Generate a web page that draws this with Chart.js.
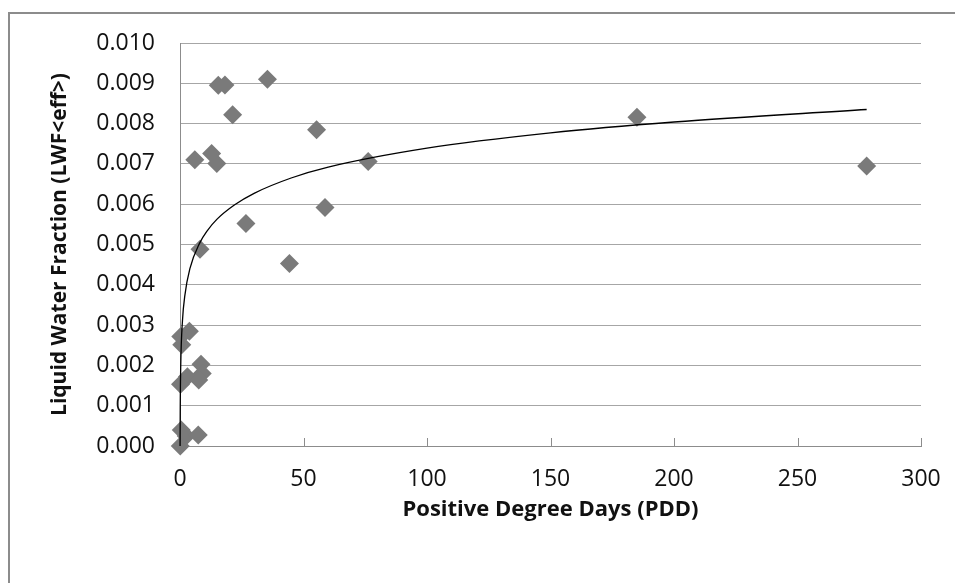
<!DOCTYPE html>
<html>
<head>
<meta charset="utf-8">
<script src="https://cdn.jsdelivr.net/npm/chart.js@4"></script>
<style>
  html, body { margin: 0; padding: 0; background: #fff; }
  #wrap { width: 955px; height: 583px; }
</style>
</head>
<body>
<div id="wrap"><canvas id="pddChart" width="955" height="583"></canvas></div>
<script>
// measured points: PDD vs LWF<eff>
const pddValues = [278, 185, 6.0, 12.8, 14.9, 15.5, 18.2, 21.3, 35.4, 55.3, 76.2, 58.7, 26.7, 8.1, 44.3,
  3.8, 0.3, 0.7, 8.5, 9.0, 3.0, 0.2, 7.6, 0.5, 2.5, 7.4, 0.1];
const lwfValues = [0.00695, 0.00816, 0.00710, 0.00726, 0.00701, 0.00895, 0.00896, 0.00822, 0.00910, 0.00785, 0.00706, 0.00592, 0.00552, 0.00488, 0.00453,
  0.00285, 0.00272, 0.00251, 0.00203, 0.00180, 0.00172, 0.00153, 0.00164, 0.00040, 0.00025, 0.00027, 0.00000];

// trend line (log fit)
const trendX = [0.035, 0.1, 0.3, 1, 2, 4, 8, 11, 15, 22, 30, 45, 60, 100, 150, 200, 278];
const trendY = [0, 0.00097, 0.00199, 0.00311, 0.00375, 0.0044, 0.00504, 0.00534, 0.00563, 0.00598, 0.00627, 0.00665, 0.00692, 0.00739, 0.00777, 0.00804, 0.00835];

const xTickValues = [0, 50, 100, 150, 200, 250, 300];
const yTickValues = [0, 0.001, 0.002, 0.003, 0.004, 0.005, 0.006, 0.007, 0.008, 0.009, 0.010];

(function () {
  const canvas = document.getElementById("pddChart");
  if (!canvas || typeof Chart === "undefined") return;

  const FONT = "'Open Sans', 'Liberation Sans', sans-serif";
  const AXIS_GRAY = "#8c8c8c";

  const points = pddValues.map((x, i) => ({ x, y: lwfValues[i] }));
  const trend = trendX.map((x, i) => ({ x, y: trendY[i] }));

  const frameAndTicksPlugin = {
    id: "frameAndTicks",
    beforeDraw(chart) {
      const { ctx, width, height } = chart;
      ctx.save();
      ctx.fillStyle = "#fff";
      ctx.fillRect(0, 0, width, height);
      ctx.strokeStyle = AXIS_GRAY;
      ctx.lineWidth = 2;
      ctx.beginPath();
      ctx.moveTo(9, height);
      ctx.lineTo(9, 13);
      ctx.lineTo(width, 13);
      ctx.stroke();
      ctx.restore();
    },
    beforeDatasetsDraw(chart) {
      // Excel style inside tick marks on the x axis
      const { ctx, chartArea } = chart;
      const xScale = chart.scales.x;
      ctx.save();
      ctx.strokeStyle = AXIS_GRAY;
      ctx.lineWidth = 1;
      xScale.ticks.forEach(t => {
        const px = Math.round(xScale.getPixelForValue(t.value)) + 0.5;
        ctx.beginPath();
        ctx.moveTo(px, chartArea.bottom);
        ctx.lineTo(px, chartArea.bottom - 8);
        ctx.stroke();
      });
      ctx.restore();
    }
  };

  new Chart(canvas, {
    type: "scatter",
    data: {
      datasets: [
        {
          label: "LWF",
          data: points,
          pointStyle: "rectRot",
          pointRadius: 9.5,
          pointHoverRadius: 9.5,
          pointBackgroundColor: "#7a7a7a",
          pointBorderColor: "#7a7a7a",
          pointBorderWidth: 0,
          clip: false,
          order: 2
        },
        {
          label: "Log. trend",
          data: trend,
          showLine: true,
          borderColor: "#000",
          borderWidth: 1.3,
          pointRadius: 0,
          cubicInterpolationMode: "monotone",
          clip: false,
          order: 1
        }
      ]
    },
    options: {
      responsive: false,
      animation: false,
      layout: {
        padding: { left: 0, top: 43, right: 34, bottom: 0 }
      },
      plugins: {
        legend: { display: false },
        tooltip: { enabled: false }
      },
      scales: {
        x: {
          type: "linear",
          min: 0,
          max: 300,
          afterBuildTicks(scale) {
            scale.ticks = xTickValues.map(v => ({ value: v }));
          },
          afterFit(scale) {
            scale.height = 583 - 446;
            scale.paddingLeft = 0;
            scale.paddingRight = 0;
          },
          grid: { display: false, drawTicks: false },
          border: { display: true, color: AXIS_GRAY, width: 1 },
          ticks: {
            color: "#111",
            font: { family: FONT, size: 23 },
            padding: 20,
            maxRotation: 0
          },
          title: {
            display: true,
            text: "Positive Degree Days (PDD)",
            color: "#111",
            font: { family: FONT, size: 22, weight: "bold" },
            padding: { top: 0, bottom: 60 }
          }
        },
        y: {
          type: "linear",
          min: 0,
          max: 0.01,
          afterBuildTicks(scale) {
            scale.ticks = yTickValues.map(v => ({ value: v }));
          },
          afterFit(scale) {
            scale.width = 180;
          },
          grid: { color: "#a6a6a6", lineWidth: 1, drawTicks: false },
          border: { display: true, color: AXIS_GRAY, width: 1 },
          ticks: {
            color: "#111",
            font: { family: FONT, size: 23 },
            padding: 25,
            callback: v => Number(v).toFixed(3)
          },
          title: {
            display: true,
            text: "Liquid Water Fraction (LWF<eff>)",
            color: "#111",
            font: { family: FONT, size: 21, weight: "bold" },
            padding: { top: 47, bottom: 0 }
          }
        }
      }
    },
    plugins: [frameAndTicksPlugin]
  });
})();
</script>
</body>
</html>
